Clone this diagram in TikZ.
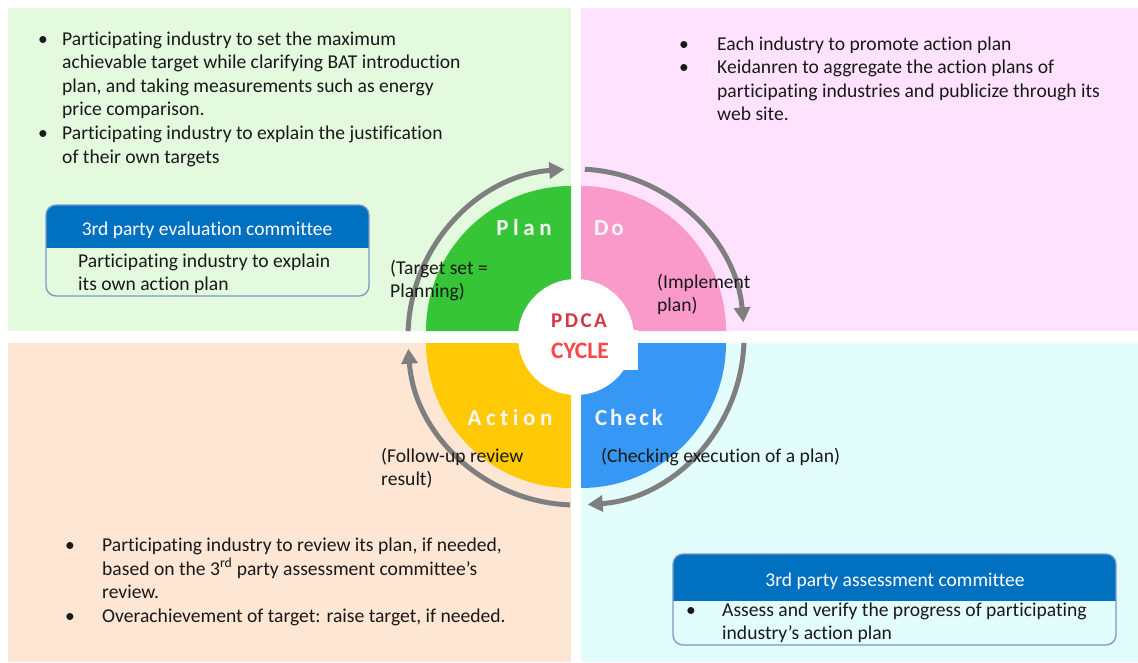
\documentclass[tikz,border=0pt]{standalone}
\usepackage{fontspec}
\setmainfont{Carlito}[Ligatures=NoCommon]
\usetikzlibrary{arrows.meta}
\definecolor{bgplan}{HTML}{E3FADF}
\definecolor{bgdo}{HTML}{FFE3FE}
\definecolor{bgact}{HTML}{FDE6D3}
\definecolor{bgcheck}{HTML}{E3FCFC}
\definecolor{plangreen}{HTML}{36C536}
\definecolor{dopink}{HTML}{F99ACB}
\definecolor{actyellow}{HTML}{FFC905}
\definecolor{checkblue}{HTML}{3797F5}
\definecolor{ringgray}{HTML}{7F7F7F}
\definecolor{hdrblue}{HTML}{0070C0}
\definecolor{boxline}{HTML}{7A99C2}
\definecolor{pdcared}{HTML}{D33842}
\definecolor{cyclered}{HTML}{FF4545}
\newcommand\lines[1]{\begin{tabular}[t]{@{}l@{}}#1\end{tabular}}
\newcommand\bullets[2]{\begin{tabular}[t]{@{}p{#1}@{}l@{}}#2\end{tabular}}
\begin{document}
\begin{tikzpicture}[x=1pt,y=-1pt,
  txt/.style={inner sep=0pt, anchor=base west, text=black!90,
    font=\fontsize{19.6}{23.6}\selectfont},
  slicelbl/.style={inner sep=0pt, text=white!93!gray,
    font=\fontsize{23}{26}\selectfont\bfseries\addfontfeature{LetterSpace=20}},
  ring/.style={draw=ringgray, line width=5pt, -{Triangle[length=15pt,width=16pt]}},
  hdr/.style={inner sep=0pt, text=white, font=\fontsize{19.5}{22}\selectfont},
  frame/.style={draw=boxline, line width=1.3pt, rounded corners=10}]

\useasboundingbox (0,0) rectangle (1138,662);
\fill[bgplan] (8,8) rectangle (571,331);
\fill[bgdo] (581,8) rectangle (1138,331);
\fill[bgact] (8,343) rectangle (571,662);
\fill[bgcheck] (581,343) rectangle (1138,662);

\fill[plangreen] (571,331) -- ++(-180:145) arc[start angle=-180, end angle=-90, radius=145] -- cycle;
\fill[dopink] (581,331) -- ++(-90:145) arc[start angle=-90, end angle=0, radius=145] -- cycle;
\fill[checkblue] (581,343) -- ++(0:145) arc[start angle=0, end angle=90, radius=145] -- cycle;
\fill[actyellow] (571,343) -- ++(90:145) arc[start angle=90, end angle=180, radius=145] -- cycle;
\fill[white] (576,337) circle[radius=58];
\fill[white] (540,330) rectangle (638,370);

\coordinate (o) at (576,337);
\draw[ring] ([shift={(-178:168)}]o) arc[start angle=-178, end angle=-94, radius=168];
\draw[ring] ([shift={(-87:168)}]o) arc[start angle=-87, end angle=-5, radius=168];
\draw[ring] ([shift={(2:168)}]o) arc[start angle=2, end angle=86, radius=168];
\draw[ring] ([shift={(92:168)}]o) arc[start angle=92, end angle=176, radius=168];

\node[slicelbl] (plan) at (524,228) {Plan};
\node[slicelbl, font=\fontsize{23}{26}\selectfont\bfseries\addfontfeature{LetterSpace=12}] (do) at (609,228) {Do};
\node[slicelbl] (action) at (510,418) {Action};
\node[slicelbl, font=\fontsize{23}{26}\selectfont\bfseries\addfontfeature{LetterSpace=12}] (check) at (629,418) {Check};
\node[inner sep=0pt, text=pdcared, font=\fontsize{21}{24}\selectfont\bfseries\addfontfeature{LetterSpace=12}] (pdca) at (579,321) {PDCA};
\node[inner sep=0pt, text=cyclered, font=\fontsize{23.5}{26}\selectfont\bfseries] (cycle) at (580,351) {CYCLE};

\node[txt] (targetset) at (390,274) {\lines{(Target set =\\ Planning)}};
\node[txt] (implement) at (657,288) {\lines{(Implement\\ plan)}};
\node[txt] (followup) at (381,462) {\lines{(Follow-up review\\ result)}};
\node[txt] (checking) at (601,462) {(Checking execution of a plan)};

\node[txt] (planbullets) at (38,45) {\bullets{24pt}{%
  \textbullet & Participating industry to set the maximum\\
  & achievable target while clarifying BAT introduction\\
  & plan, and taking measurements such as energy\\
  & price comparison.\\
  \textbullet & Participating industry to explain the justification\\
  & of their own targets}};
\node[txt] (dobullets) at (679,50) {\bullets{38pt}{%
  \textbullet & Each industry to promote action plan\\
  \textbullet & Keidanren to aggregate the action plans of\\
  & participating industries and publicize through its\\
  & web site.}};
\node[txt] (actbullets) at (65,551) {\bullets{37pt}{%
  \textbullet & Participating industry to review its plan, if needed,\\
  & based on the 3\textsuperscript{rd} party assessment committee’s\\
  & review.\\
  \textbullet & Overachievement of target: raise target, if needed.}};

\begin{scope}
  \clip[rounded corners=10] (46,205) rectangle (369,296);
  \fill[hdrblue] (46,205) rectangle (369,248);
\end{scope}
\draw[frame] (46,205) rectangle (369,296);
\node[hdr] (evalhead) at (207,230) {3rd party evaluation committee};
\node[txt] (evalbody) at (78,267) {\lines{Participating industry to explain\\ its own action plan}};

\begin{scope}
  \clip[rounded corners=10] (673,554) rectangle (1116,645);
  \fill[hdrblue] (673,554) rectangle (1116,601);
\end{scope}
\draw[frame] (673,554) rectangle (1116,645);
\node[hdr] (assesshead) at (895,581) {3rd party assessment committee};
\node[txt] (assessbody) at (686,616) {\bullets{36pt}{%
  \textbullet & Assess and verify the progress of participating\\
  & industry’s action plan}};
\end{tikzpicture}
\end{document}
